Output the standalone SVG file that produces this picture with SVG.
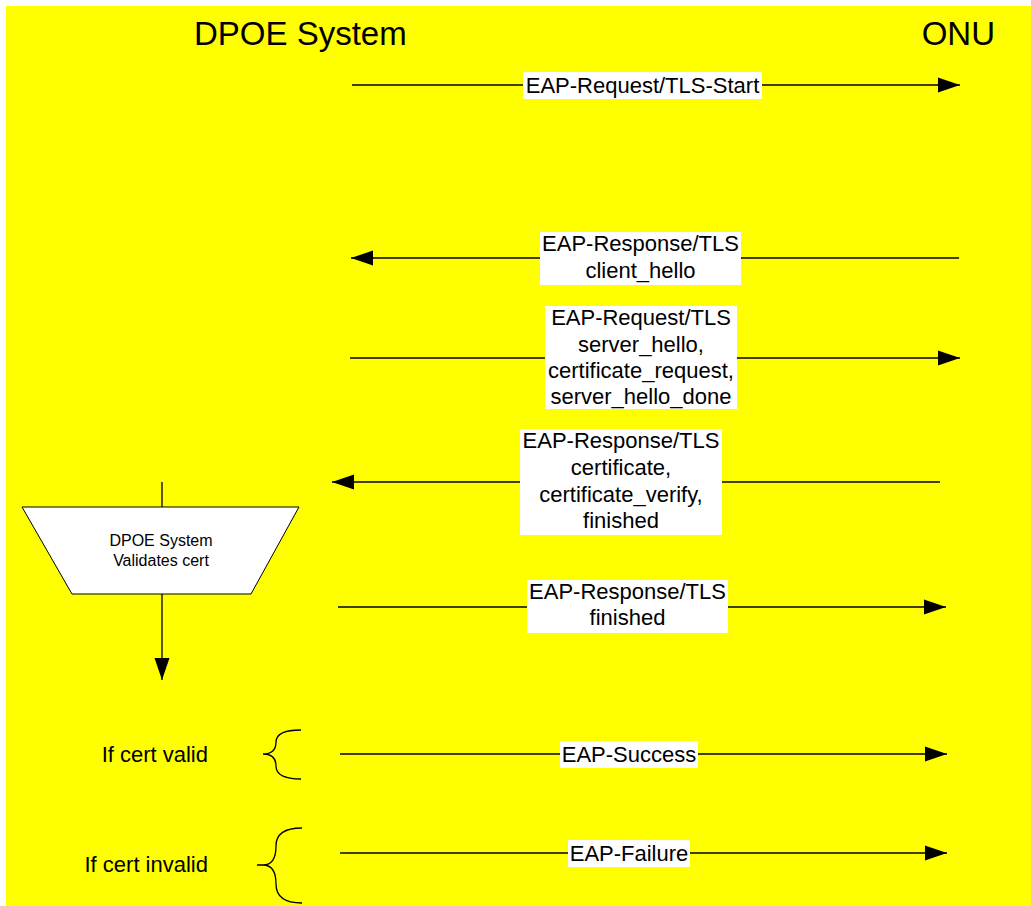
<svg xmlns="http://www.w3.org/2000/svg" width="1031" height="906" viewBox="0 0 1031 906">
<style>
.bg{fill:#ffff00}
.t{font-family:"Liberation Sans",Arial,sans-serif;fill:#000}
.lbl{font-size:22px;text-anchor:middle}
.box{fill:#fff}
.ln{stroke:#000;stroke-width:1.3;fill:none}
.br{stroke:#000;stroke-width:1.3;fill:none}
</style>
<defs>
<marker id="ah" markerUnits="userSpaceOnUse" markerWidth="22" markerHeight="16" refX="22" refY="8" orient="auto">
<path d="M0,0.5 L22,8 L0,15.5 z" fill="#000"/>
</marker>
</defs>
<rect class="bg" x="6" y="6" width="1025" height="900"/>
<g id="title-dpoe"><text class="t" x="194" y="45" font-size="33">DPOE System</text></g>
<g id="title-onu"><text class="t" x="995" y="45" font-size="33" text-anchor="end">ONU</text></g>
<g id="connectors">
<line class="ln" x1="352" y1="85" x2="960" y2="85" marker-end="url(#ah)"/>
<line class="ln" x1="959" y1="258" x2="351" y2="258" marker-end="url(#ah)"/>
<line class="ln" x1="350" y1="358" x2="960" y2="358" marker-end="url(#ah)"/>
<line class="ln" x1="940" y1="482" x2="332" y2="482" marker-end="url(#ah)"/>
<line class="ln" x1="338" y1="607" x2="946" y2="607" marker-end="url(#ah)"/>
<line class="ln" x1="340" y1="754" x2="947" y2="754" marker-end="url(#ah)"/>
<line class="ln" x1="340" y1="853" x2="947" y2="853" marker-end="url(#ah)"/>
<line class="ln" x1="162" y1="482" x2="162" y2="507"/>
<line class="ln" x1="162" y1="594" x2="162" y2="680" marker-end="url(#ah)"/>
</g>
<g id="msg1">
<rect class="box" x="523" y="72" width="239" height="27"/>
<text class="t lbl" x="642.5" y="93">EAP-Request/TLS-Start</text>
</g>
<g id="msg2">
<rect class="box" x="540" y="232" width="201" height="53"/>
<text class="t lbl" x="640.5" y="251">EAP-Response/TLS</text>
<text class="t lbl" x="640.5" y="278">client_hello</text>
</g>
<g id="msg3">
<rect class="box" x="545" y="306" width="192" height="103"/>
<text class="t lbl" x="641" y="325">EAP-Request/TLS</text>
<text class="t lbl" x="641" y="352">server_hello,</text>
<text class="t lbl" x="641" y="378">certificate_request,</text>
<text class="t lbl" x="641" y="404">server_hello_done</text>
</g>
<g id="msg4">
<rect class="box" x="520" y="429" width="202" height="106"/>
<text class="t lbl" x="621" y="448">EAP-Response/TLS</text>
<text class="t lbl" x="621" y="475">certificate,</text>
<text class="t lbl" x="621" y="502">certificate_verify,</text>
<text class="t lbl" x="621" y="528">finished</text>
</g>
<g id="msg5">
<rect class="box" x="527" y="580" width="201" height="53"/>
<text class="t lbl" x="627.5" y="599">EAP-Response/TLS</text>
<text class="t lbl" x="627.5" y="625">finished</text>
</g>
<g id="msg6">
<rect class="box" x="560" y="741" width="138" height="27"/>
<text class="t lbl" x="629" y="762">EAP-Success</text>
</g>
<g id="msg7">
<rect class="box" x="568" y="840" width="122" height="27"/>
<text class="t lbl" x="629" y="861">EAP-Failure</text>
</g>
<g id="validate">
<polygon points="22,507 299,507 251,594 72,594" fill="#fff" stroke="#000" stroke-width="1"/>
<text class="t" x="161" y="546" font-size="16" text-anchor="middle">DPOE System</text>
<text class="t" x="161" y="566" font-size="16" text-anchor="middle">Validates cert</text>
</g>
<g id="cond-valid">
<text class="t" x="208" y="762" font-size="22" text-anchor="end">If cert valid</text>
<path class="br" d="M301,730 Q276,730 276,742 Q276,754 263,754 Q276,754 276,766 Q276,779 301,779"/>
</g>
<g id="cond-invalid">
<text class="t" x="208" y="872" font-size="22" text-anchor="end">If cert invalid</text>
<path class="br" d="M302,828 Q276,828 276,846 Q276,865 263,865 L257,865 M263,865 Q276,865 276,884 Q276,903 302,903"/>
</g>
</svg>
